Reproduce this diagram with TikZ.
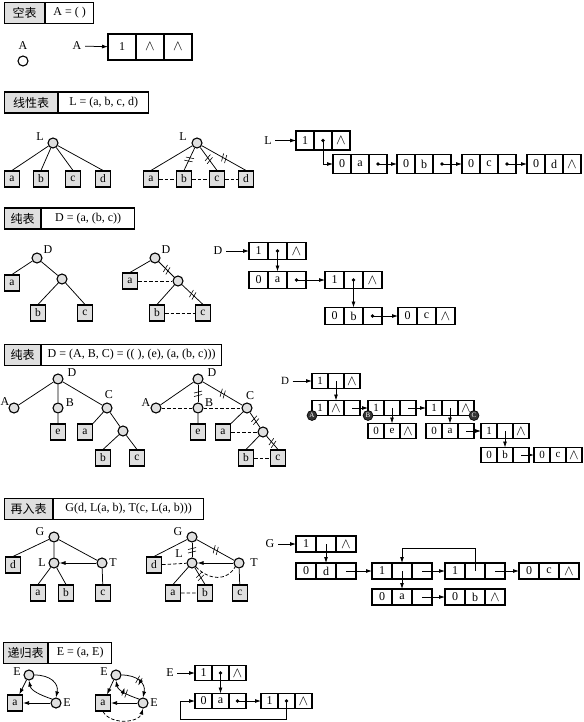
\documentclass[tikz,border=0pt]{standalone}
\usepackage{fontspec}
\setmainfont{Liberation Serif}
\newfontfamily\cjk{Noto Sans CJK SC}
\usetikzlibrary{positioning,decorations.markings,arrows.meta}

\tikzset{
  ttlL/.style={draw, line width=1.1pt, fill=gray!25, minimum height=21, inner sep=0, anchor=west, font=\cjk\fontsize{12}{14}\selectfont},
  ttlR/.style={draw, line width=1.1pt, minimum height=21, inner sep=0},
  cell/.style={draw, line width=1.1pt, minimum width=19, minimum height=19, inner sep=0, outer sep=0},
  vtx/.style={circle, draw, line width=1.1pt, fill=gray!25, minimum size=10, inner sep=0},
  leaf/.style={draw, line width=1.1pt, fill=gray!25, minimum width=15, minimum height=16, inner sep=0, font=\fontsize{11.5}{12}\selectfont},
  tagc/.style={circle, draw, line width=0.6pt, fill=black!80, text=white, minimum size=10, inner sep=0, font=\fontsize{7}{7}\selectfont},
  ptr/.style={-{Latex[length=6pt,width=4pt]}, line width=0.75pt},
  sib/.style={dash pattern=on 3.5pt off 2pt, line width=0.75pt},
  dbltick/.style={postaction={decorate}, decoration={markings, mark=at position #1 with {\draw[solid, line width=0.6pt] (-2.5,-4) -- (-0.5,4) (1,-4) -- (3,4);}}},
  dbltick/.default=0.5
}
% three-field list node: name, left end, fields
\newcommand{\lnode}[5]{%
  \node[cell, anchor=west] (#1a) at (#2) {#3};
  \node[cell, right=0pt of #1a] (#1b) {#4};
  \node[cell, right=0pt of #1b] (#1c) {#5};}
\newcommand{\ptrdot}[1]{\fill (#1.center) circle (1.8);}
\newcommand{\nil}{{\fontsize{15}{15}\selectfont$\wedge$}}

\begin{document}
\begin{tikzpicture}[x=1pt, y=-1pt, font=\fontsize{12}{14}\selectfont, line width=0.75pt]
\useasboundingbox (0,0) rectangle (583,722);

% empty list
\node[ttlL, minimum width=40] (t1) at (4,13) {空表};
\node[ttlR, minimum width=48, right=0pt of t1] (t1r) {A = ( )};
\node (s1A) at (23,46) {A};
\node[vtx, fill=white] (s1Ac) at (23,61) {};
\node (s1Ap) at (77,46) {A};
\begin{scope}[cell/.append style={minimum width=28, minimum height=26}]
  \lnode{e0}{108,47}{1}{\nil}{\nil}
\end{scope}
\draw[ptr] (s1Ap) -- (e0a);

% linear list
\node[ttlL, minimum width=53] (t2) at (4,102.5) {线性表};
\node[ttlR, minimum width=90, right=0pt of t2] (t2r) {L = (a, b, c, d)};
\node[vtx] (L) at (53,143) {};
\node (Llab) at (40,137) {L};
\foreach \n/\x in {a/12,b/41,c/73,d/103}{
  \node[leaf] (L\n) at (\x,179) {\n};
  \draw (L) -- (L\n.north);}
\node[vtx] (M) at (197,143) {};
\node (Mlab) at (183,137) {L};
\foreach \n/\x in {a/151,b/184,c/217,d/246}
  \node[leaf] (M\n) at (\x,179) {\n};
\draw (M) -- (Ma.north);
\draw[dbltick] (M) -- (Mb.north);
\draw[dbltick] (M) -- (Mc.north);
\draw[dbltick] (M) -- (Md.north);
\draw[sib] (Ma) -- (Mb) (Mb) -- (Mc) (Mc) -- (Md);

\begin{scope}[cell/.append style={minimum width=18, minimum height=19}]
  \node (Lp) at (268,140.5) {L};
  \lnode{p0}{296,140.5}{1}{}{\nil}
  \lnode{p1}{333,164}{0}{a}{}
  \lnode{p2}{397,164}{0}{b}{}
  \lnode{p3}{462,164}{0}{c}{}
  \lnode{p4}{527,164}{0}{d}{\nil}
\end{scope}
\draw[ptr] (Lp) -- (p0a);
\ptrdot{p0b}\ptrdot{p1c}\ptrdot{p2c}\ptrdot{p3c}
\draw[ptr] (p0b.center) |- (p1a.west);
\draw[ptr] (p1c.center) -- (p2a.west);
\draw[ptr] (p2c.center) -- (p3a.west);
\draw[ptr] (p3c.center) -- (p4a.west);

% pure list D=(a,(b,c))
\node[ttlL, minimum width=36] (t3) at (4,218.5) {纯表};
\node[ttlR, minimum width=93, right=0pt of t3] (t3r) {D = (a, (b, c))};
\node[vtx] (D) at (37,258) {};
\node (Dlab) at (48,250) {D};
\node[leaf] (Da) at (12,283) {a};
\node[vtx] (Di) at (62,279) {};
\node[leaf] (Db) at (38,313) {b};
\node[leaf] (Dc) at (85,313) {c};
\draw (D) -- (Da.north) (D) -- (Di) (Di) -- (Db.north) (Di) -- (Dc.north);

\node[vtx] (F) at (155,258) {};
\node (Flab) at (166,250) {D};
\node[leaf] (Fa) at (130,281) {a};
\node[vtx] (Fi) at (178,281) {};
\node[leaf] (Fb) at (157,313) {b};
\node[leaf] (Fc) at (203,313) {c};
\draw (F) -- (Fa.north) (Fi) -- (Fb.north);
\draw[dbltick] (F) -- (Fi);
\draw[dbltick] (Fi) -- (Fc.north);
\draw[sib] (Fa) -- (Fi) (Fb) -- (Fc);

\begin{scope}[cell/.append style={minimum width=19, minimum height=17}]
  \node (Dp) at (218,251) {D};
  \lnode{q0}{249,251}{1}{}{\nil}
  \lnode{q1}{249,280}{0}{a}{}
  \lnode{q2}{325,280}{1}{}{\nil}
  \lnode{q3}{325,316}{0}{b}{}
  \lnode{q4}{398,316}{0}{c}{\nil}
\end{scope}
\draw[ptr] (Dp) -- (q0a);
\ptrdot{q0b}\ptrdot{q1c}\ptrdot{q2b}\ptrdot{q3c}
\draw[ptr] (q0b.center) -- (q1b.north);
\draw[ptr] (q1c.center) -- (q2a.west);
\draw[ptr] (q2b.center) -- (q3b.north);
\draw[ptr] (q3c.center) -- (q4a.west);

% pure list D=(A,B,C)
\node[ttlL, minimum width=36] (t4) at (4,355) {纯表};
\node[ttlR, minimum width=180, right=0pt of t4] (t4r) {D = (A, B, C) = (( ), (e), (a, (b, c)))};
\node[vtx] (Hr) at (58,379) {}; \node (Hrlab) at (72,373) {D};
\node[vtx] (HA) at (14,408) {}; \node (HAlab) at (5,402) {A};
\node[vtx] (HB) at (58,408) {}; \node (HBlab) at (70,403) {B};
\node[vtx] (HC) at (107,408) {}; \node (HClab) at (109,395) {C};
\node[leaf] (He) at (58,432) {e};
\node[leaf] (Ha) at (85,432) {a};
\node[vtx] (Hi) at (123,431) {};
\node[leaf] (Hb) at (103,458) {b};
\node[leaf] (Hc) at (137,458) {c};
\draw (Hr) -- (HA) (Hr) -- (HB) (Hr) -- (HC) (HB) -- (He) (HC) -- (Ha.north east)
  (HC) -- (Hi) (Hi) -- (Hb.north) (Hi) -- (Hc.north);

\node[vtx] (Kr) at (198,379) {}; \node (Krlab) at (212,373) {D};
\node[vtx] (KA) at (156,408) {}; \node (KAlab) at (146,403) {A};
\node[vtx] (KB) at (198,408) {}; \node (KBlab) at (209,403) {B};
\node[vtx] (KC) at (247,408) {}; \node (KClab) at (250,396) {C};
\node[leaf] (Ke) at (198,432) {e};
\node[leaf] (Ka) at (223,432) {a};
\node[vtx] (Ki) at (263,432) {};
\node[leaf] (Kb) at (246,458) {b};
\node[leaf] (Kc) at (278,458) {c};
\draw (Kr) -- (KA) (KB) -- (Ke) (KC) -- (Ka.north east) (Ki) -- (Kb.north);
\draw[dbltick] (Kr) -- (KB);
\draw[dbltick] (Kr) -- (KC);
\draw[dbltick] (KC) -- (Ki);
\draw[dbltick] (Ki) -- (Kc.north);
\draw[sib] (KA) -- (KB) (KB) -- (KC) (Ka) -- (Ki) (Kb) -- (Kc);

\begin{scope}[cell/.append style={minimum width=16, minimum height=15}, font=\fontsize{11}{12}\selectfont]
  \node (Dq) at (285,381) {D};
  \lnode{r0}{312,381}{1}{}{\nil}
  \lnode{r1}{312,408}{1}{\nil}{}
  \lnode{r2}{368,408}{1}{}{}
  \lnode{r3}{426,408}{1}{}{\nil}
  \lnode{r4}{368,431}{0}{e}{\nil}
  \lnode{r5}{426,431}{0}{a}{}
  \lnode{r6}{481,431}{1}{}{\nil}
  \lnode{r7}{481,455}{0}{b}{}
  \lnode{r8}{534,455}{0}{c}{\nil}
\end{scope}
\draw[ptr] (Dq) -- (r0a);
\draw[ptr] (r0b.center) -- (r1b.north);
\draw[ptr] (r1c.center) -- (r2a.west);
\draw[ptr] (r2c.center) -- (r3a.west);
\draw[ptr] (r2b.center) -- (r4b.north);
\draw[ptr] (r3b.center) -- (r5b.north);
\draw[ptr] (r5c.center) -- (r6a.west);
\draw[ptr] (r6b.center) -- (r7b.north);
\draw[ptr] (r7c.center) -- (r8a.west);
\node[tagc] (mkA) at (r1a.south west) {A};
\node[tagc] (mkB) at (r2a.south west) {B};
\node[tagc] (mkC) at (r3c.south east) {C};

% reentrant list
\node[ttlL, minimum width=48] (t5) at (4,509) {再入表};
\node[ttlR, minimum width=150, right=0pt of t5] (t5r) {G(d, L(a, b), T(c, L(a, b)))};
\node[vtx] (Gg) at (54,537) {}; \node (Gglab) at (40,532) {G};
\node[leaf] (Gd) at (13,565) {d};
\node[vtx] (GL) at (54,563) {}; \node (GLlab) at (42,563) {L};
\node[vtx] (GT) at (102,563) {}; \node (GTlab) at (113,563) {T};
\node[leaf] (Ga) at (38,593) {a};
\node[leaf] (Gb) at (66,593) {b};
\node[leaf] (Gc) at (103,593) {c};
\draw (Gg) -- (Gd.north) (Gg) -- (GL) (Gg) -- (GT) (GL) -- (Ga.north) (GL) -- (Gb.north) (GT) -- (Gc);
\draw[ptr] (GT) -- (GL);

\node[vtx] (Jg) at (192,537) {}; \node (Jglab) at (178,532) {G};
\node[leaf] (Jd) at (154,565) {d};
\node[vtx] (JL) at (192,563) {}; \node (JLlab) at (179,554) {L};
\node[vtx] (JT) at (239,563) {}; \node (JTlab) at (254,563) {T};
\node[leaf] (Ja) at (173,593) {a};
\node[leaf] (Jb) at (205,593) {b};
\node[leaf] (Jc) at (240,593) {c};
\draw (Jg) -- (Jd.north) (JL) -- (Ja.north) (JT) -- (Jc);
\draw[dbltick] (Jg) -- (JL);
\draw[dbltick] (Jg) -- (JT);
\draw[dbltick] (JL) -- (Jb.north);
\draw[ptr] (JT) -- (JL);
\draw[sib] (Jd) -- (JL) (Ja) -- (Jb);
\draw[sib] (JL.south east) .. controls +(14,14) and +(-8,14) .. (JT.south west);

\begin{scope}[cell/.append style={minimum width=20, minimum height=16}]
  \node (Gp) at (270,544) {G};
  \lnode{g0}{296,544}{1}{}{\nil}
  \lnode{g1}{296,571}{0}{d}{}
  \lnode{g2}{372,571}{1}{}{}
  \lnode{g3}{445,571}{1}{}{}
  \lnode{g4}{519,571}{0}{c}{\nil}
  \lnode{g5}{372,597}{0}{a}{}
  \lnode{g6}{445,597}{0}{b}{\nil}
\end{scope}
\draw[ptr] (Gp) -- (g0a);
\draw[ptr] (g0b.center) -- (g1b.north);
\draw[ptr] (g1c.center) -- (g2a.west);
\draw[ptr] (g2c.center) -- (g3a.west);
\draw[ptr] (g3c.center) -- (g4a.west);
\draw[ptr] (g2b.center) -- (g5b.north);
\draw[ptr] (g5c.center) -- (g6a.west);
\draw[ptr] (g3b.center) -- ++(0,-23) -| (g2b.north);

% recursive list
\node[ttlL, minimum width=44] (t6) at (3,653) {递归表};
\node[ttlR, minimum width=63, right=0pt of t6] (t6r) {E = (a, E)};
\node[vtx] (Ee) at (29,675) {}; \node (Eelab) at (17,672) {E};
\node[leaf] (Ea) at (15,703) {a};
\node[vtx] (Ef) at (56,703) {}; \node (Eflab) at (67,703) {E};
\draw[ptr] (Ee) -- (Ea);
\draw[ptr] (Ef) -- (Ea);
\draw[ptr] (Ee.east) .. controls +(16,0) and +(3,-14) .. (Ef.north);
\draw[ptr] (Ef.north west) .. controls +(-12,-4) and +(2,10) .. (Ee.south);

\node[vtx] (Ne) at (116,675) {}; \node (Nelab) at (104,672) {E};
\node[leaf] (Na) at (103,703) {a};
\node[vtx] (Nf) at (143,703) {}; \node (Nflab) at (154,703) {E};
\draw[ptr] (Ne) -- (Na);
\draw[ptr] (Nf) -- (Na);
\draw[ptr, dbltick] (Ne.east) .. controls +(16,0) and +(3,-14) .. (Nf.north);
\draw[ptr, dbltick] (Nf.north west) .. controls +(-12,-4) and +(2,10) .. (Ne.south);
\draw[sib, ptr] (Na.south) .. controls +(8,14) and +(-4,14) .. (Nf.south);

\begin{scope}[cell/.append style={minimum width=17, minimum height=15}]
  \node (Ep) at (170,673) {E};
  \lnode{h0}{195,673}{1}{}{\nil}
  \lnode{h1}{195,701}{0}{a}{}
  \lnode{h2}{261,701}{1}{}{\nil}
\end{scope}
\draw[ptr] (Ep) -- (h0a);
\ptrdot{h0b}\ptrdot{h1c}\ptrdot{h2b}
\draw[ptr] (h0b.center) -- (h1b.north);
\draw[ptr] (h1c.center) -- (h2a.west);
\coordinate (h1back) at ([xshift=-15]h1a.west);
\draw[ptr] (h2b.center) -- ++(0,18) -| (h1back) -- (h1a.west);
\end{tikzpicture}
\end{document}
